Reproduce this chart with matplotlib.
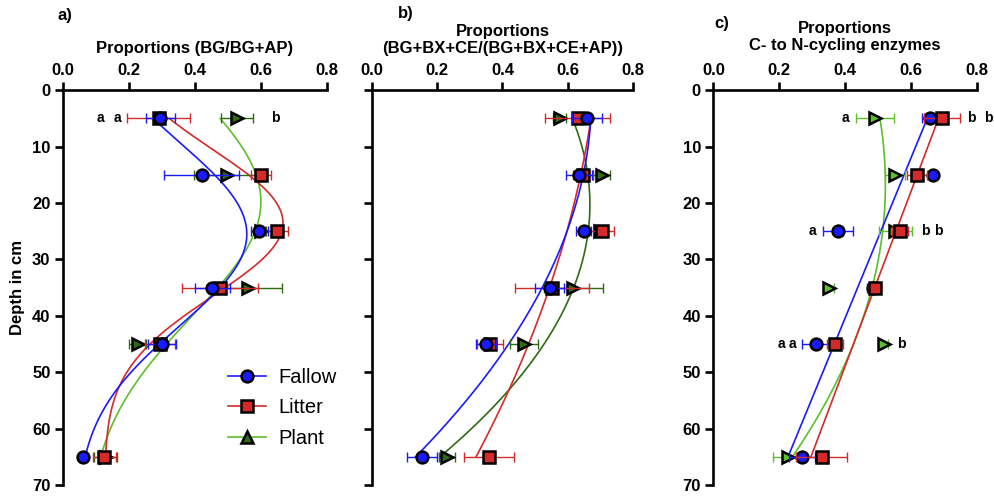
import numpy as np
import matplotlib.pyplot as plt
from matplotlib.lines import Line2D

plt.rcParams['font.family'] = ['Liberation Sans', 'DejaVu Sans']

depth = np.array([5, 15, 25, 35, 45, 65])

# a) BG/(BG+AP)
fallow_a = [0.295, 0.42, 0.595, 0.453, 0.30, 0.062]
fallow_a_err = [0.043, 0.113, 0.025, 0.053, 0.043, 0.0]
litter_a = [0.29, 0.60, 0.648, 0.475, 0.294, 0.125]
litter_a_err = [0.095, 0.03, 0.035, 0.115, 0.045, 0.035]
plant_a = [0.527, 0.496, 0.60, 0.562, 0.226, 0.13]
plant_a_err = [0.049, 0.10, 0.015, 0.103, 0.027, 0.035]

# b) (BG+BX+CE)/(BG+BX+CE+AP)
fallow_b = [0.659, 0.635, 0.65, 0.545, 0.349, 0.153]
fallow_b_err = [0.045, 0.04, 0.023, 0.045, 0.03, 0.045]
litter_b = [0.631, 0.647, 0.704, 0.552, 0.361, 0.358]
litter_b_err = [0.10, 0.03, 0.037, 0.115, 0.04, 0.077]
plant_b = [0.576, 0.704, 0.70, 0.617, 0.466, 0.23]
plant_b_err = [0.02, 0.025, 0.02, 0.09, 0.044, 0.025]

# c) C- to N-cycling enzymes
fallow_c = [0.658, 0.667, 0.378, 0.486, 0.311, 0.269]
fallow_c_err = [0.025, 0.0, 0.045, 0.02, 0.042, 0.04]
litter_c = [0.694, 0.619, 0.567, 0.49, 0.37, 0.329]
litter_c_err = [0.055, 0.03, 0.025, 0.02, 0.025, 0.077]
plant_c = [0.491, 0.552, 0.552, 0.35, 0.517, 0.227]
plant_c_err = [0.057, 0.03, 0.05, 0.015, 0.012, 0.045]

letters_a = [('a', 0.112, 5), ('a', 0.164, 5), ('b', 0.642, 5)]
letters_c = [('a', 0.40, 5), ('b', 0.783, 5), ('b', 0.835, 5),
             ('a', 0.302, 25), ('b', 0.643, 25), ('b', 0.682, 25),
             ('a', 0.208, 45), ('a', 0.241, 45), ('b', 0.572, 45)]

BLUE = '#1a1aff'
RED = '#d42a2a'
GREEN_DARK = '#2f6b12'
GREEN_LIGHT = '#5cc02a'
FS = 12

dd = np.linspace(5, 65, 200)


def poly_curve(vals, deg):
    return np.polyval(np.polyfit(depth, vals, deg), dd)


def gauss_curve(vals):
    # baseline + gaussian, grid search on centre/width, linear lstsq for the rest
    y = np.asarray(vals)
    best = None
    for c in np.linspace(10, 40, 121):
        for w in np.linspace(6, 40, 137):
            X = np.column_stack([np.ones_like(depth, dtype=float),
                                 np.exp(-0.5 * ((depth - c) / w) ** 2)])
            coef, *_ = np.linalg.lstsq(X, y, rcond=None)
            sse = np.sum((X @ coef - y) ** 2)
            if best is None or sse < best[0]:
                best = (sse, c, w, coef)
    _, c, w, coef = best
    return coef[0] + coef[1] * np.exp(-0.5 * ((dd - c) / w) ** 2)


fig = plt.figure(figsize=(9.95, 4.96), dpi=100)
bottom, height = 0.022, 0.796
ax_a = fig.add_axes([0.0633, bottom, 0.2653, height])
ax_b = fig.add_axes([0.374, bottom, 0.262, height])
ax_c = fig.add_axes([0.717, bottom, 0.2647, height])


def draw(ax, vals, errs, ecolor, marker, curve_color, curve, z):
    ax.errorbar(vals, depth, xerr=errs, fmt='none', ecolor=ecolor,
                elinewidth=1.0, capsize=3.5, capthick=1.0, zorder=z)
    ax.plot(vals, depth, linestyle='none', marker=marker, markersize=8.5,
            markerfacecolor=ecolor, markeredgecolor='black',
            markeredgewidth=1.8, zorder=z + 0.5)
    ax.plot(curve, dd, color=curve_color, lw=1.2, zorder=2)


def style(ax, title, label, lx, ly, pad=7, ylabels=True):
    ax.set_xlim(0, 0.8)
    ax.set_ylim(70, 0)
    ax.xaxis.tick_top()
    ax.set_xticks([0, 0.2, 0.4, 0.6, 0.8])
    ax.set_xticklabels(['0.0', '0.2', '0.4', '0.6', '0.8'])
    ax.set_yticks(range(0, 71, 10))
    if not ylabels:
        ax.set_yticklabels([])
    for s in ['right', 'bottom']:
        ax.spines[s].set_visible(False)
    for s in ['left', 'top']:
        ax.spines[s].set_linewidth(1.9)
    ax.tick_params(axis='both', width=1.9, length=6, labelsize=FS, pad=3)
    for t in ax.get_xticklabels() + ax.get_yticklabels():
        t.set_fontweight('bold')
    ax.set_xlabel(title, fontsize=FS, fontweight='bold', labelpad=pad,
                  linespacing=1.2)
    ax.xaxis.set_label_position('top')
    ax.text(lx, ly, label, transform=ax.transAxes, fontsize=FS,
            fontweight='bold', ha='left', va='center')


# panel a
draw(ax_a, plant_a, plant_a_err, GREEN_DARK, '>', GREEN_LIGHT, gauss_curve(plant_a), 3)
draw(ax_a, litter_a, litter_a_err, RED, 's', RED, gauss_curve(litter_a), 4)
draw(ax_a, fallow_a, fallow_a_err, BLUE, 'o', BLUE, gauss_curve(fallow_a), 5)
style(ax_a, 'Proportions (BG/BG+AP)', 'a)', -0.02, 1.19)
ax_a.set_ylabel('Depth in cm', fontsize=FS, fontweight='bold', labelpad=5)
for txt, x, y in letters_a:
    ax_a.text(x, y, txt, fontsize=10, fontweight='bold', ha='center', va='center')

handles = [
    Line2D([], [], color=BLUE, marker='o', markersize=8.5, markerfacecolor=BLUE,
           markeredgecolor='black', markeredgewidth=1.8, lw=1.2),
    Line2D([], [], color=RED, marker='s', markersize=8.5, markerfacecolor=RED,
           markeredgecolor='black', markeredgewidth=1.8, lw=1.2),
    Line2D([], [], color=GREEN_LIGHT, marker='^', markersize=8.5, markerfacecolor=GREEN_DARK,
           markeredgecolor='black', markeredgewidth=1.8, lw=1.2),
]
ax_a.legend(handles, ['Fallow', 'Litter', 'Plant'], loc='lower right',
            bbox_to_anchor=(1.105, 0.048), frameon=False, fontsize=14.5,
            handlelength=1.9, handletextpad=0.6, labelspacing=0.58)

# panel b
draw(ax_b, plant_b, plant_b_err, GREEN_DARK, '>', GREEN_DARK, poly_curve(plant_b, 2), 3)
draw(ax_b, litter_b, litter_b_err, RED, 's', RED, poly_curve(litter_b, 2), 4)
draw(ax_b, fallow_b, fallow_b_err, BLUE, 'o', BLUE, poly_curve(fallow_b, 2), 5)
style(ax_b, 'Proportions\n(BG+BX+CE/(BG+BX+CE+AP))', 'b)', 0.1, 1.195, ylabels=False)

# panel c
draw(ax_c, plant_c, plant_c_err, GREEN_LIGHT, '>', GREEN_LIGHT, poly_curve(plant_c, 2), 3)
draw(ax_c, fallow_c, fallow_c_err, BLUE, 'o', BLUE, poly_curve(fallow_c, 1), 4)
draw(ax_c, litter_c, litter_c_err, RED, 's', RED, poly_curve(litter_c, 1), 5)
style(ax_c, 'Proportions\nC- to N-cycling enzymes', 'c)', 0.005, 1.17, pad=9)
for txt, x, y in letters_c:
    ax_c.text(x, y, txt, fontsize=10, fontweight='bold', ha='center',
              va='center', clip_on=False)

fig.savefig('out.png', dpi=100)
